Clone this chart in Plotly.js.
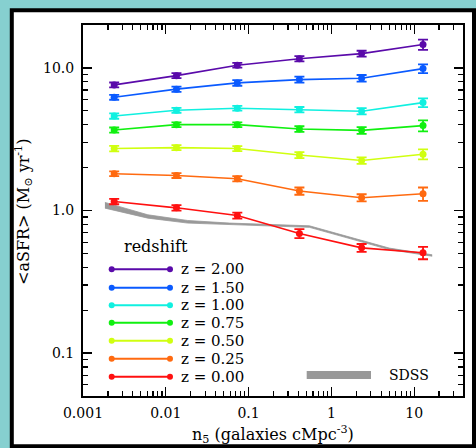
<!DOCTYPE html>
<html>
<head>
<meta charset="utf-8">
<script src="https://cdn.plot.ly/plotly-3.0.1.min.js"></script>
<style>html,body{margin:0;padding:0;background:#86d0d0;}#chart{width:476px;height:448px;}</style>
</head>
<body>
<div id="chart"></div>
<script>
// ---- data ----
const density = [0.00238, 0.01346, 0.0731, 0.411, 2.32, 12.8];
const redshiftLabels = ['z = 2.00','z = 1.50','z = 1.00','z = 0.75','z = 0.50','z = 0.25','z = 0.00'];
const colors = ['#5a0aaa','#0a5aff','#10f0e0','#10f010','#d0ff10','#ff6a10','#ff1010'];
const sfr_z200 = [7.6, 8.83, 10.45, 11.6, 12.6, 14.6];
const sfr_z150 = [6.23, 7.1, 7.85, 8.28, 8.47, 9.89];
const sfr_z100 = [4.6, 5.05, 5.21, 5.1, 4.97, 5.71];
const sfr_z075 = [3.67, 4.0, 4.0, 3.73, 3.65, 3.94];
const sfr_z050 = [2.72, 2.76, 2.72, 2.45, 2.24, 2.48];
const sfr_z025 = [1.81, 1.76, 1.67, 1.37, 1.23, 1.31];
const sfr_z000 = [1.156, 1.044, 0.922, 0.69, 0.547, 0.505];
const err_z200 = [0.3, 0.35, 0.4, 0.5, 0.6, 1.2];
const err_z150 = [0.25, 0.3, 0.35, 0.4, 0.45, 0.7];
const err_z100 = [0.2, 0.2, 0.2, 0.22, 0.25, 0.4];
const err_z075 = [0.15, 0.15, 0.15, 0.17, 0.2, 0.35];
const err_z050 = [0.12, 0.11, 0.11, 0.12, 0.12, 0.2];
const err_z025 = [0.07, 0.07, 0.07, 0.08, 0.07, 0.14];
const err_z000 = [0.05, 0.045, 0.045, 0.05, 0.035, 0.05];
const sdss_x = [0.00184, 0.00607, 0.0184, 0.059, 0.543, 5.0, 16.5];
const sdss_hi = [1.14, 0.933, 0.851, 0.816, 0.781, 0.545, 0.489];
const sdss_lo = [1.039, 0.884, 0.816, 0.794, 0.762, 0.532, 0.478];
const xTickVals = [0.001, 0.01, 0.1, 1, 10];
const xTickText = ['0.001', '0.01', '0.1', '1', '10'];
const yTickVals = [0.1, 1, 10];
const yTickText = ['0.1', '1.0', '10.0'];

const series = [sfr_z200, sfr_z150, sfr_z100, sfr_z075, sfr_z050, sfr_z025, sfr_z000];
const errors = [err_z200, err_z150, err_z100, err_z075, err_z050, err_z025, err_z000];

const FONT = 'DejaVu Serif, Liberation Serif, serif';

const traces = [];
traces.push({x: sdss_x, y: sdss_lo, mode: 'lines', line: {color: '#999999', width: 0.8}, hoverinfo: 'skip', showlegend: false});
traces.push({x: sdss_x, y: sdss_hi, mode: 'lines', fill: 'tonexty', fillcolor: '#999999', line: {color: '#999999', width: 0.8}, hoverinfo: 'skip', showlegend: false});
for (let i = series.length - 1; i >= 0; i--) {
  traces.push({
    x: density, y: series[i], mode: 'lines+markers', name: redshiftLabels[i],
    line: {color: colors[i], width: 1.6},
    marker: {color: colors[i], size: 7},
    error_y: {type: 'data', array: errors[i], visible: true, color: colors[i], thickness: 1.8, width: 5},
    showlegend: false
  });
}

// minor tick positions (2..9 per decade)
function minors(lo, hi) { const v = []; for (let e = lo; e <= hi; e++) for (let d = 2; d <= 9; d++) v.push(d * Math.pow(10, e)); return v; }

// layout geometry helpers (paper coords from pixel positions)
const L = 83, T = 25, W = 380, H = 371;
const px = p => (p - L) / W;
const py = p => (T + H - p) / H;

const shapes = [];
const annotations = [];
// outer frame
shapes.push({type: 'rect', xref: 'paper', yref: 'paper', x0: px(11.8), x1: px(474), y0: py(446.3), y1: py(10.3), line: {color: 'black', width: 4}, fillcolor: 'white', layer: 'below'});
// legend
const legRows = [269.3, 287.7, 305.3, 322.7, 340.7, 358.7, 376.7];
annotations.push({xref: 'paper', yref: 'paper', x: px(156), y: py(246), text: 'redshift', showarrow: false, xanchor: 'center', yanchor: 'middle', font: {family: FONT, size: 16, color: 'black'}});
for (let i = 0; i < redshiftLabels.length; i++) {
  const yy = py(legRows[i]);
  shapes.push({type: 'line', xref: 'paper', yref: 'paper', x0: px(111.7), x1: px(170), y0: yy, y1: yy, line: {color: colors[i], width: 2}});
  [111.7, 170].forEach(cx => shapes.push({type: 'circle', xref: 'paper', yref: 'paper', xsizemode: 'pixel', ysizemode: 'pixel', xanchor: px(cx), yanchor: yy, x0: -3, x1: 3, y0: -3, y1: 3, fillcolor: colors[i], line: {color: colors[i], width: 0}}));
  annotations.push({xref: 'paper', yref: 'paper', x: px(180), y: yy, text: redshiftLabels[i], showarrow: false, xanchor: 'left', yanchor: 'middle', borderpad: 0, font: {family: FONT, size: 15, color: 'black'}});
}
shapes.push({type: 'rect', xref: 'paper', yref: 'paper', x0: px(306.7), x1: px(371), y0: py(379), y1: py(371), fillcolor: '#999999', line: {width: 0}});
annotations.push({xref: 'paper', yref: 'paper', x: px(387), y: py(375), text: 'SDSS', showarrow: false, xanchor: 'left', yanchor: 'middle', font: {family: FONT, size: 14, color: 'black'}});
// axis titles
annotations.push({xref: 'paper', yref: 'paper', x: px(23), y: py(212), text: '<aSFR> (M<sub>⊙</sub> yr<sup>-1</sup>)', textangle: -90, showarrow: false, xanchor: 'center', yanchor: 'middle', font: {family: FONT, size: 16, color: 'black'}});
annotations.push({xref: 'paper', yref: 'paper', x: 0.5, y: py(434), text: 'n<sub>5</sub> (galaxies cMpc<sup>-3</sup>)', showarrow: false, xanchor: 'center', yanchor: 'middle', font: {family: FONT, size: 16, color: 'black'}});

const axisCommon = {
  type: 'log', showgrid: false, zeroline: false, showline: true, linecolor: 'black', linewidth: 2,
  mirror: 'ticks', ticks: 'inside', ticklen: 9, tickwidth: 1.3, tickcolor: 'black',
  tickmode: 'array', tickfont: {family: FONT, size: 14, color: 'black'}
};

const layout = {
  width: 476, height: 448,
  margin: {l: L, r: 476 - L - W, t: T, b: 448 - T - H},
  paper_bgcolor: '#86d0d0', plot_bgcolor: 'white',
  showlegend: false,
  xaxis: Object.assign({}, axisCommon, {
    range: [-3, 1.59], tickvals: xTickVals, ticktext: xTickText, ticklabelstandoff: 3,
    minor: {tickmode: 'array', tickvals: minors(-3, 1), ticks: 'inside', ticklen: 5, tickwidth: 1.2, tickcolor: 'black', showgrid: false}
  }),
  yaxis: Object.assign({}, axisCommon, {
    range: [Math.log10(0.05), Math.log10(20)], tickvals: yTickVals, ticktext: yTickText, ticklabelstandoff: 4,
    minor: {tickmode: 'array', tickvals: minors(-2, 1), ticks: 'inside', ticklen: 5, tickwidth: 1.2, tickcolor: 'black', showgrid: false}
  }),
  shapes: shapes, annotations: annotations
};

Plotly.newPlot('chart', traces, layout, {displayModeBar: false, staticPlot: true});
</script>
</body>
</html>
